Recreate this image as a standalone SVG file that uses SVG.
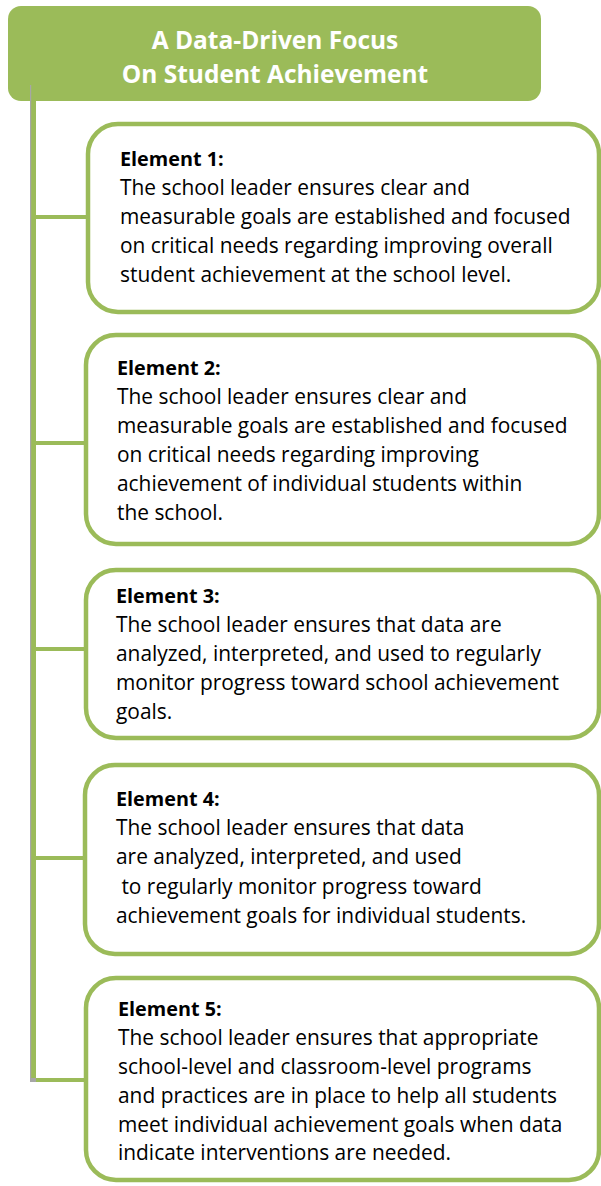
<svg xmlns="http://www.w3.org/2000/svg" width="601" height="1186" viewBox="0 0 601 1186">
<style>
.box{fill:#fff;stroke:#9bbb59;stroke-width:4.5}
.conn{stroke:#9bbb59;stroke-width:4;fill:none}
.t{font-family:"Open Sans","Noto Sans","Liberation Sans",sans-serif;font-size:20.9px;fill:#000}
.b{font-weight:bold;font-size:19.8px}
.h{font-family:"Open Sans","Noto Sans","Liberation Sans",sans-serif;font-size:24.5px;font-weight:bold;fill:#fff;text-anchor:middle}
</style>
<rect width="601" height="1186" fill="#fff"/>
<g id="header">
<rect x="8" y="6" width="533" height="95" rx="13" fill="#9bbb59"/>
<text class="h" x="275" y="49">A Data-Driven Focus</text>
<text class="h" x="275" y="83">On Student Achievement</text>
</g>
<g id="connectors">
<rect x="30" y="85" width="6" height="997" fill="#a6a6a6"/>
<rect x="31.2" y="85" width="4.8" height="993" fill="#9bbb59"/>
<line class="conn" x1="36" y1="217" x2="88" y2="217"/>
<line class="conn" x1="36" y1="443" x2="86" y2="443"/>
<line class="conn" x1="36" y1="649" x2="86" y2="649"/>
<line class="conn" x1="36" y1="858" x2="85" y2="858"/>
<line class="conn" x1="36" y1="1080" x2="86" y2="1080"/>
</g>
<g id="element1">
<rect class="box" x="88" y="124" width="511" height="188" rx="30"/>
<text class="t"><tspan class="b" x="120" y="166">Element 1:</tspan><tspan x="120" y="195">The school leader ensures clear and</tspan><tspan x="120" y="224">measurable goals are established and focused</tspan><tspan x="120" y="253">on critical needs regarding improving overall</tspan><tspan x="120" y="282">student achievement at the school level.</tspan></text>
</g>
<g id="element2">
<rect class="box" x="86" y="335" width="513" height="209" rx="30"/>
<text class="t"><tspan class="b" x="117" y="375">Element 2:</tspan><tspan x="117" y="404">The school leader ensures clear and</tspan><tspan x="117" y="433">measurable goals are established and focused</tspan><tspan x="117" y="462">on critical needs regarding improving</tspan><tspan x="117" y="491">achievement of individual students within</tspan><tspan x="117" y="520">the school.</tspan></text>
</g>
<g id="element3">
<rect class="box" x="86" y="570" width="513" height="168" rx="30"/>
<text class="t"><tspan class="b" x="116" y="603">Element 3:</tspan><tspan x="116" y="632">The school leader ensures that data are</tspan><tspan x="116" y="661">analyzed, interpreted, and used to regularly</tspan><tspan x="116" y="690">monitor progress toward school achievement</tspan><tspan x="116" y="719">goals.</tspan></text>
</g>
<g id="element4">
<rect class="box" x="85" y="765" width="514" height="189" rx="30"/>
<text class="t" xml:space="preserve"><tspan class="b" x="116" y="806">Element 4:</tspan><tspan x="116" y="835">The school leader ensures that data</tspan><tspan x="116" y="864">are analyzed, interpreted, and used</tspan><tspan x="116" y="894"> to regularly monitor progress toward</tspan><tspan x="116" y="923">achievement goals for individual students.</tspan></text>
</g>
<g id="element5">
<rect class="box" x="86" y="978" width="513" height="202" rx="30"/>
<text class="t"><tspan class="b" x="118" y="1016">Element 5:</tspan><tspan x="118" y="1045">The school leader ensures that appropriate</tspan><tspan x="118" y="1074">school-level and classroom-level programs</tspan><tspan x="118" y="1103">and practices are in place to help all students</tspan><tspan x="118" y="1132">meet individual achievement goals when data</tspan><tspan x="118" y="1160">indicate interventions are needed.</tspan></text>
</g>
</svg>
